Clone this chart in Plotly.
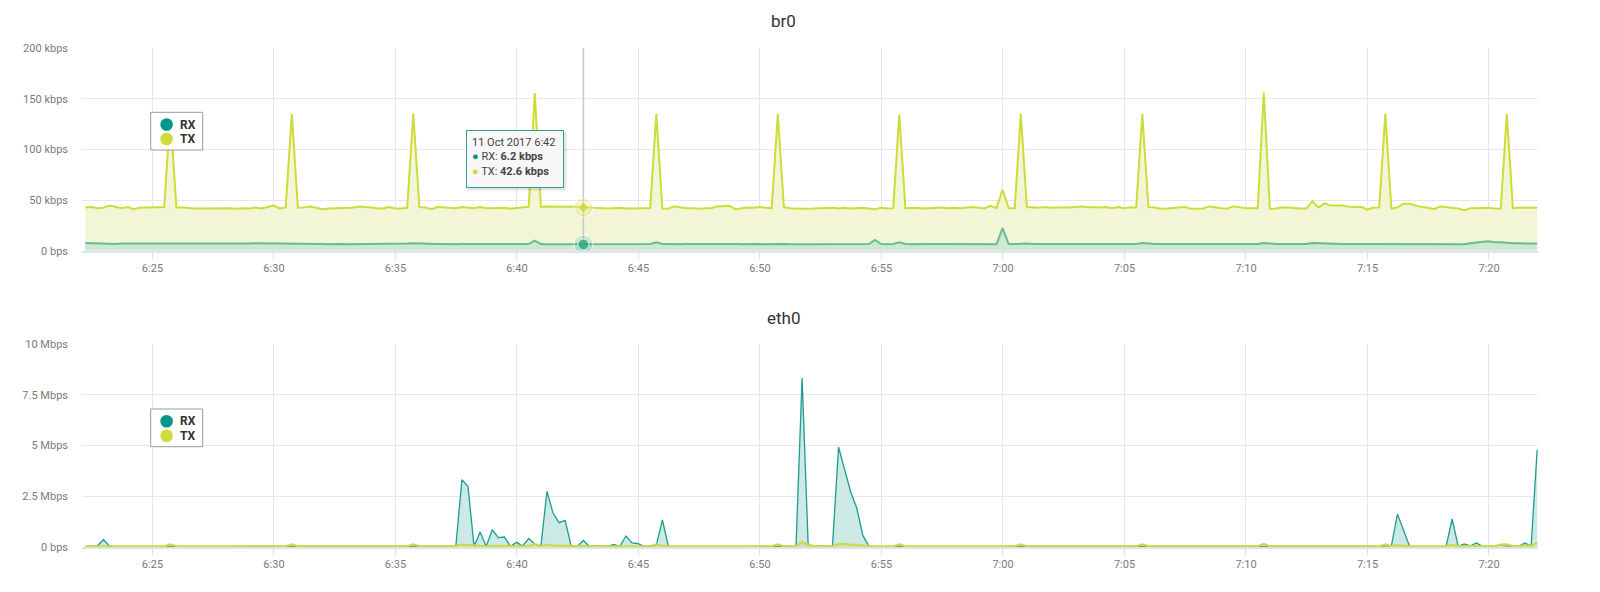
import pandas as pd
import plotly.graph_objects as go

# ---------------- data ----------------
START = "2017-10-11 06:22:14"
N_SAMPLES = 240          # one sample every 15 s
times = pd.date_range(START, periods=N_SAMPLES, freq="15s")

# br0 (kbps)
br0_tx = [
    42.7, 43.0, 42.0, 42.4, 44.6, 43.0, 42.0, 43.0, 41.0, 42.4, 42.7, 42.4, 43.0, 43.0,
    135.0,
    42.7, 42.7, 42.0, 41.7, 41.7, 41.7, 42.0, 42.4, 42.4, 42.0, 41.4, 42.0, 41.7, 42.7, 41.7, 43.0, 44.6, 41.7, 42.7,
    134.8,
    42.4, 42.7, 43.7, 42.4, 41.0, 41.7, 41.7, 42.0, 42.4, 42.4, 43.7, 43.4, 42.7, 42.0, 41.7, 43.0, 41.7, 41.7, 42.4,
    135.6,
    43.0, 42.7, 41.0, 43.0, 42.7, 41.7, 42.0, 43.0, 42.4, 42.0, 43.0, 42.0, 42.0, 42.4, 42.4, 41.4, 42.0, 43.0, 43.4,
    155.5,
    43.4, 43.7, 43.4, 43.7, 43.4, 43.7, 43.4, 42.6, 42.4, 42.0, 42.4, 41.7, 42.0, 42.4, 41.7, 42.0, 42.4, 42.0, 42.0,
    135.0,
    41.4, 41.7, 43.7, 42.7, 42.0, 42.0, 41.4, 42.0, 42.0, 43.7, 43.7, 44.3, 41.0, 42.0, 42.7, 42.4, 43.0, 42.4, 42.0,
    135.0,
    43.0, 42.0, 41.4, 41.4, 41.4, 41.7, 42.0, 41.7, 42.4, 41.7, 42.4, 41.7, 42.0, 42.4, 41.7, 41.0, 42.4, 41.7, 42.0,
    134.3,
    42.0, 42.4, 42.4, 41.7, 42.0, 42.4, 42.7, 42.0, 42.4, 42.0, 42.4, 43.0, 42.4, 41.7, 44.3, 42.0, 60.2, 42.0, 42.0,
    135.0,
    43.0, 42.7, 42.4, 43.0, 42.4, 42.7, 42.4, 42.7, 43.0, 43.7, 43.0, 42.7, 42.7, 43.0, 42.0, 43.0, 42.0, 42.7, 42.7,
    135.0,
    43.0, 42.7, 41.4, 41.7, 42.0, 42.4, 43.0, 41.4, 41.4, 41.7, 43.7, 42.7, 42.0, 41.7, 43.7, 43.0, 42.0, 42.0, 42.0,
    156.0,
    41.4, 41.7, 42.7, 42.7, 42.0, 41.7, 41.7, 48.6, 42.7, 46.7, 44.7, 44.7, 44.7, 43.4, 43.0, 43.4, 40.4, 42.4, 42.7,
    135.0,
    41.4, 42.7, 46.3, 46.3, 44.3, 43.0, 42.4, 41.0, 43.7, 43.0, 43.0, 41.7, 39.7, 42.0, 42.0, 42.4, 42.4, 41.7, 41.4,
    135.0,
    42.0, 42.4, 42.4, 42.0, 42.4,
]
br0_rx = [
    7.6, 7.3, 7.0, 7.0, 6.6, 6.6, 7.0, 7.0, 6.6, 6.6, 6.6, 6.3, 6.6, 6.6, 7.0, 7.0, 6.6, 6.6, 6.6, 7.0,
    7.0, 6.6, 6.6, 6.6, 7.0, 7.0, 7.0, 7.0, 7.3, 7.3, 7.3, 7.0, 6.6, 7.0, 7.0, 7.0, 6.6, 6.6, 6.6, 6.6,
    6.3, 6.6, 6.6, 6.3, 6.3, 6.6, 6.6, 6.6, 6.3, 6.3, 6.6, 6.6, 7.0, 7.0, 7.3, 7.0, 6.6, 6.6, 6.6, 6.6,
    6.3, 6.3, 6.6, 6.6, 6.3, 6.6, 6.6, 6.3, 6.3, 6.6, 6.6, 6.6, 6.6, 6.6, 9.9, 6.6, 6.3, 6.3, 6.3, 6.6,
    6.6, 6.3, 6.2, 6.3, 6.6, 6.6, 6.3, 6.3, 6.6, 6.6, 6.6, 6.3, 6.6, 6.6, 8.3, 6.6, 6.6, 6.3, 6.3, 6.6,
    6.6, 7.0, 7.3, 7.0, 7.0, 6.6, 6.6, 6.6, 6.3, 6.6, 6.6, 6.6, 6.3, 6.6, 6.6, 6.6, 6.3, 6.3, 6.6, 6.6,
    6.6, 6.3, 6.3, 6.6, 6.6, 6.6, 6.3, 6.3, 6.6, 6.6, 10.6, 6.6, 6.3, 6.6, 8.2, 6.6, 6.3, 6.6, 6.6, 6.6,
    6.6, 6.6, 6.3, 6.3, 6.6, 6.6, 6.6, 6.6, 6.3, 6.3, 6.3, 22.3, 6.6, 6.6, 7.0, 7.0, 6.6, 6.6, 6.6, 6.3,
    6.6, 7.0, 7.0, 6.6, 6.6, 6.6, 6.3, 6.6, 6.6, 6.6, 6.6, 6.3, 6.6, 6.6, 7.6, 7.0, 6.6, 6.6, 6.3, 6.6,
    6.6, 6.6, 6.3, 6.6, 6.6, 6.6, 6.3, 6.6, 6.6, 6.3, 6.6, 6.6, 6.3, 6.6, 7.6, 7.0, 6.6, 6.6, 6.6, 6.6,
    6.6, 6.6, 7.6, 7.3, 7.0, 7.0, 7.0, 6.6, 6.6, 6.6, 6.3, 7.0, 6.3, 6.6, 7.0, 6.6, 6.3, 6.3, 6.6, 6.6,
    6.6, 6.3, 6.6, 6.6, 6.3, 6.6, 6.6, 6.3, 7.3, 8.3, 8.9, 9.3, 8.3, 8.3, 7.6, 7.3, 7.3, 7.3, 7.0, 7.0,
]

# eth0 (Mbps)
eth0_rx = [
    0.02, 0.03, 0.06, 0.36, 0.05, 0.02, 0.02, 0.02, 0.02, 0.02, 0.02, 0.02, 0.02, 0.02, 0.04, 0.02, 0.02, 0.02, 0.02, 0.02,
    0.02, 0.02, 0.02, 0.02, 0.02, 0.02, 0.02, 0.03, 0.02, 0.02, 0.02, 0.02, 0.02, 0.02, 0.04, 0.02, 0.02, 0.02, 0.02, 0.02,
    0.02, 0.02, 0.02, 0.02, 0.02, 0.02, 0.02, 0.02, 0.02, 0.02, 0.02, 0.02, 0.02, 0.02, 0.05, 0.03, 0.02, 0.02, 0.02, 0.02,
    0.02, 0.03, 3.31, 2.99, 0.03, 0.74, 0.03, 0.85, 0.46, 0.49, 0.03, 0.23, 0.05, 0.42, 0.15, 0.03, 2.74, 1.67, 1.20, 1.31,
    0.03, 0.03, 0.32, 0.03, 0.05, 0.05, 0.03, 0.13, 0.03, 0.54, 0.20, 0.17, 0.03, 0.05, 0.09, 1.33, 0.03, 0.02, 0.02, 0.02,
    0.02, 0.02, 0.02, 0.02, 0.02, 0.02, 0.02, 0.02, 0.02, 0.02, 0.02, 0.02, 0.02, 0.04, 0.03, 0.02, 0.02, 0.03, 8.32, 0.10,
    0.06, 0.05, 0.02, 0.03, 4.92, 3.81, 2.71, 1.92, 0.57, 0.03, 0.02, 0.02, 0.02, 0.02, 0.04, 0.02, 0.02, 0.02, 0.02, 0.02,
    0.02, 0.02, 0.02, 0.02, 0.02, 0.02, 0.02, 0.02, 0.02, 0.02, 0.02, 0.03, 0.02, 0.02, 0.03, 0.02, 0.02, 0.02, 0.02, 0.02,
    0.02, 0.02, 0.02, 0.02, 0.02, 0.02, 0.02, 0.02, 0.02, 0.02, 0.02, 0.02, 0.02, 0.02, 0.03, 0.02, 0.02, 0.02, 0.02, 0.02,
    0.02, 0.02, 0.02, 0.02, 0.02, 0.02, 0.02, 0.02, 0.02, 0.02, 0.02, 0.02, 0.02, 0.02, 0.04, 0.02, 0.02, 0.02, 0.02, 0.02,
    0.02, 0.02, 0.03, 0.02, 0.02, 0.02, 0.02, 0.02, 0.02, 0.02, 0.02, 0.02, 0.02, 0.05, 0.04, 0.06, 1.62, 0.82, 0.03, 0.02,
    0.02, 0.02, 0.02, 0.02, 0.03, 1.38, 0.03, 0.15, 0.06, 0.20, 0.03, 0.03, 0.04, 0.12, 0.04, 0.03, 0.05, 0.20, 0.03, 4.79,
]
eth0_tx = [
    0.04, 0.04, 0.04, 0.05, 0.04, 0.04, 0.04, 0.04, 0.04, 0.04, 0.04, 0.04, 0.04, 0.04, 0.13, 0.04, 0.04, 0.04, 0.04, 0.04,
    0.04, 0.04, 0.04, 0.04, 0.04, 0.04, 0.04, 0.04, 0.04, 0.04, 0.04, 0.04, 0.04, 0.04, 0.13, 0.04, 0.04, 0.04, 0.04, 0.04,
    0.04, 0.04, 0.04, 0.04, 0.04, 0.04, 0.04, 0.04, 0.04, 0.04, 0.04, 0.04, 0.04, 0.04, 0.13, 0.04, 0.04, 0.04, 0.04, 0.04,
    0.04, 0.05, 0.12, 0.10, 0.05, 0.06, 0.04, 0.06, 0.05, 0.05, 0.04, 0.04, 0.04, 0.05, 0.16, 0.04, 0.12, 0.08, 0.07, 0.07,
    0.04, 0.04, 0.04, 0.04, 0.04, 0.04, 0.04, 0.04, 0.04, 0.05, 0.04, 0.04, 0.04, 0.04, 0.13, 0.06, 0.04, 0.04, 0.04, 0.04,
    0.04, 0.04, 0.04, 0.04, 0.04, 0.04, 0.04, 0.04, 0.04, 0.04, 0.04, 0.04, 0.04, 0.04, 0.13, 0.04, 0.04, 0.04, 0.25, 0.10,
    0.05, 0.04, 0.04, 0.04, 0.16, 0.14, 0.12, 0.10, 0.07, 0.04, 0.04, 0.04, 0.04, 0.04, 0.13, 0.04, 0.04, 0.04, 0.04, 0.04,
    0.04, 0.04, 0.04, 0.04, 0.04, 0.04, 0.04, 0.04, 0.04, 0.04, 0.04, 0.06, 0.04, 0.04, 0.13, 0.04, 0.04, 0.04, 0.04, 0.04,
    0.04, 0.04, 0.04, 0.04, 0.04, 0.04, 0.04, 0.04, 0.04, 0.04, 0.04, 0.04, 0.04, 0.04, 0.13, 0.04, 0.04, 0.04, 0.04, 0.04,
    0.04, 0.04, 0.04, 0.04, 0.04, 0.04, 0.04, 0.04, 0.04, 0.04, 0.04, 0.04, 0.04, 0.04, 0.16, 0.04, 0.04, 0.04, 0.04, 0.04,
    0.04, 0.04, 0.04, 0.04, 0.04, 0.04, 0.04, 0.04, 0.04, 0.04, 0.04, 0.04, 0.04, 0.04, 0.13, 0.04, 0.09, 0.05, 0.04, 0.04,
    0.04, 0.04, 0.04, 0.04, 0.04, 0.10, 0.04, 0.05, 0.04, 0.05, 0.04, 0.04, 0.04, 0.12, 0.13, 0.04, 0.04, 0.10, 0.04, 0.22,
]

br0_tickvals = [0, 50, 100, 150, 200]
br0_ticktext = ["0 bps", "50 kbps", "100 kbps", "150 kbps", "200 kbps"]
eth0_tickvals = [0, 2.5, 5, 7.5, 10]
eth0_ticktext = ["0 bps", "2.5 Mbps", "5 Mbps", "7.5 Mbps", "10 Mbps"]
panel_titles = ["br0", "eth0"]
series_names = ["RX", "TX"]
hover_idx = 82

for arr in (br0_tx, br0_rx, eth0_rx, eth0_tx):
    assert len(arr) == N_SAMPLES, len(arr)

# ---------------- styling ----------------
# The page body keeps its default 8 px margin, so the figure is drawn 8 px in
# from the window edge; page positions below are converted with OFF.
OFF = 8
W, H = 1584, 576
ML, MT = 82 - OFF, 48 - OFF
PLOT_R, PLOT_B = 1538 - OFF, 547 - OFF
MR, MB = W - PLOT_R, H - PLOT_B
PW, PH = W - ML - MR, H - MT - MB
FONT = "Roboto, 'Liberation Sans', Arial, sans-serif"
RX_C = "#009688"
TX_C = "#cddc39"


def px(x):
    """page x pixel -> paper fraction"""
    return (x - OFF - ML) / PW


def py(y):
    """page y pixel -> paper fraction"""
    return (H - MB - (y - OFF)) / PH


top_dom = [py(250.7), 1.0]
bot_dom = [0.0, py(344)]
x_range = ["2017-10-11 06:22:06", "2017-10-11 07:22:01"]

fig = go.Figure()

# top panel: br0
fig.add_trace(go.Scatter(x=times, y=br0_tx, name="TX", mode="lines", fill="tozeroy",
                         fillcolor="#f3f6d6", line=dict(color=TX_C, width=2),
                         xaxis="x", yaxis="y", showlegend=False, hoverinfo="skip"))
fig.add_trace(go.Scatter(x=times, y=br0_rx, name="RX", mode="lines", fill="tozeroy",
                         fillcolor="#cfe8d4", line=dict(color="#66bd8d", width=2),
                         xaxis="x", yaxis="y", showlegend=False, hoverinfo="skip"))
# bottom panel: eth0
fig.add_trace(go.Scatter(x=times, y=eth0_rx, name="RX", mode="lines", fill="tozeroy",
                         fillcolor="#cce9e5", line=dict(color="#1b9e8f", width=1.3),
                         xaxis="x2", yaxis="y2", showlegend=False, hoverinfo="skip"))
fig.add_trace(go.Scatter(x=times, y=eth0_tx, name="TX", mode="lines", fill="tozeroy",
                         fillcolor="rgba(205,220,57,0.3)", line=dict(color=TX_C, width=2),
                         xaxis="x2", yaxis="y2", showlegend=False, hoverinfo="skip"))

# hover crosshair + highlighted points on br0
ht = times[hover_idx]
fig.add_trace(go.Scatter(x=[ht, ht], y=[0, br0_tickvals[-1]], mode="lines",
                         line=dict(color="#c8c8c8", width=1.5),
                         xaxis="x", yaxis="y", showlegend=False, hoverinfo="skip"))
fig.add_trace(go.Scatter(x=[ht, ht], y=[br0_tx[hover_idx], br0_rx[hover_idx]], mode="markers",
                         marker=dict(size=[19, 19], color=["rgba(205,220,57,0.35)", "rgba(0,150,136,0.22)"]),
                         xaxis="x", yaxis="y", showlegend=False, hoverinfo="skip"))
fig.add_trace(go.Scatter(x=[ht, ht], y=[br0_tx[hover_idx], br0_rx[hover_idx]], mode="markers",
                         marker=dict(size=[9, 11], symbol=["diamond", "circle"], color=[TX_C, "#1f9f74"]),
                         xaxis="x", yaxis="y", showlegend=False, hoverinfo="skip"))

axis_font = dict(family=FONT, size=11, color="#7a7a7a")
xcommon = dict(type="date", range=x_range, tick0="2017-10-11 06:25:00", dtick=300000,
               tickformat="%-H:%M", showgrid=True, gridcolor="#e6e6e6", gridwidth=1,
               ticks="outside", ticklen=6, tickcolor="#d6dcea", showline=True,
               linecolor="#dde3ee", linewidth=2, tickfont=axis_font, zeroline=False)
ycommon = dict(showgrid=True, gridcolor="#e8e8e8", gridwidth=1, zeroline=False, ticks="",
               ticklabelstandoff=13, tickfont=axis_font, showline=False)

shapes = []
annotations = []

# panel titles
for title, yc in zip(panel_titles, (20.7, 318.0)):
    annotations.append(dict(text=title, xref="paper", yref="paper", x=px(783.5), y=py(yc),
                            xanchor="center", yanchor="middle", showarrow=False,
                            font=dict(family=FONT, size=17, color="#333333")))

# legends (one per panel)
for off in (0.0, 296.7):
    shapes.append(dict(type="rect", xref="paper", yref="paper", x0=px(150.7), x1=px(202.7),
                       y0=py(112.3 + off), y1=py(150.0 + off),
                       line=dict(color="#9a9a9a", width=1), fillcolor="white", layer="above"))
    for name, col, yc in zip(series_names, (RX_C, TX_C), (124.5, 139.0)):
        shapes.append(dict(type="circle", xref="paper", yref="paper",
                           x0=px(166.6 - 6.3), x1=px(166.6 + 6.3),
                           y0=py(yc + off + 6.3), y1=py(yc + off - 6.3),
                           line=dict(width=0), fillcolor=col, layer="above"))
        annotations.append(dict(text="<b>%s</b>" % name, xref="paper", yref="paper",
                                x=px(177.5), y=py(yc + off), xanchor="left", yanchor="middle",
                                showarrow=False, font=dict(family=FONT, size=12, color="#333333")))

# tooltip
tip = ("11 Oct 2017 6:42<br>"
       "<span style='color:%s'>●</span> RX: <b>%.1f kbps</b><br>"
       "<span style='color:%s'>●</span> TX: <b>%.1f kbps</b>"
       % (RX_C, br0_rx[hover_idx], TX_C, br0_tx[hover_idx]))
shapes.append(dict(type="rect", xref="paper", yref="paper", x0=px(467.5), x1=px(566.5),
                   y0=py(132), y1=py(190.5), line=dict(width=0),
                   fillcolor="rgba(0,0,0,0.10)", layer="above"))
annotations.append(dict(text=tip, xref="paper", yref="paper", x=px(465.7), y=py(130),
                        xanchor="left", yanchor="top", align="left", valign="top",
                        width=86, height=46, showarrow=False, bgcolor="#f7f7f7",
                        bordercolor="#2aa198", borderwidth=1, borderpad=5,
                        font=dict(family=FONT, size=11, color="#444444")))

fig.update_layout(
    width=W, height=H,
    margin=dict(l=ML, r=MR, t=MT, b=MB, pad=0),
    paper_bgcolor="white", plot_bgcolor="white",
    font=dict(family=FONT),
    showlegend=False,
    xaxis=dict(anchor="y", domain=[0, 1], **xcommon),
    xaxis2=dict(anchor="y2", domain=[0, 1], matches="x", **xcommon),
    yaxis=dict(anchor="x", domain=top_dom, range=[0, 200], tickvals=br0_tickvals,
               ticktext=br0_ticktext, **ycommon),
    yaxis2=dict(anchor="x2", domain=bot_dom, range=[0, 10], tickvals=eth0_tickvals,
                ticktext=eth0_ticktext, **ycommon),
    shapes=shapes,
    annotations=annotations,
)

fig.write_html("out.html")
